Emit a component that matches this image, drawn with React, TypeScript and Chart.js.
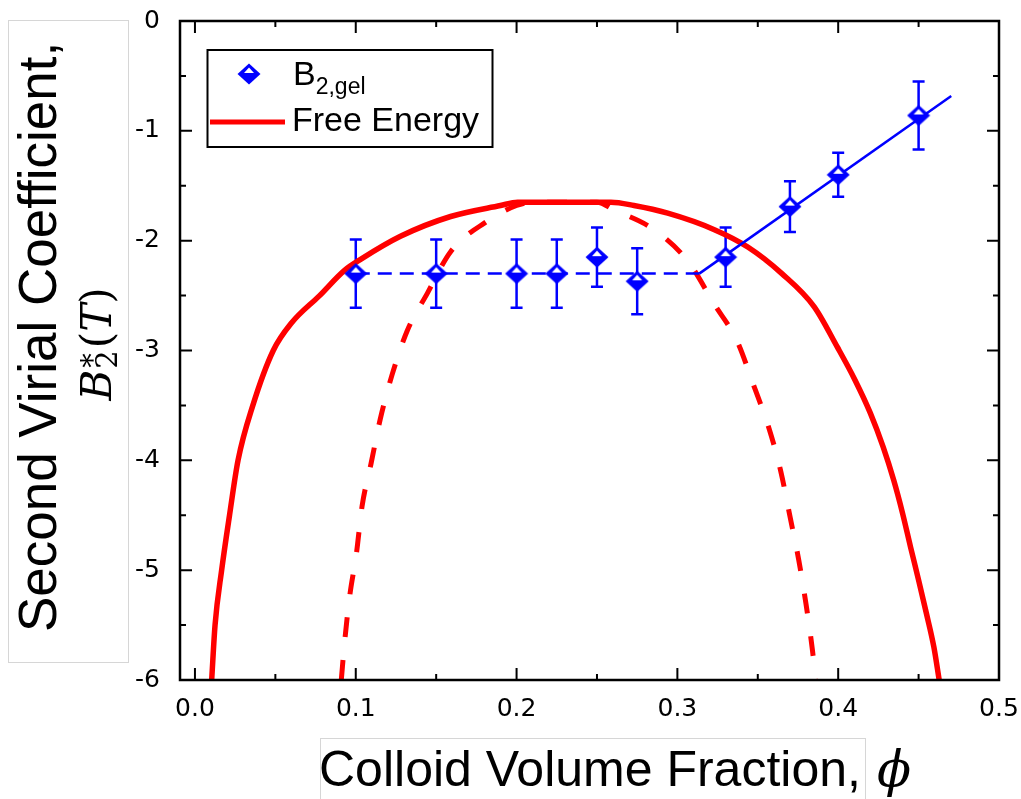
import React, { useEffect, useRef } from 'react';
import { Chart, registerables } from 'chart.js';

Chart.register(...registerables);

// ---- data ----
const phi = [0.10, 0.15, 0.20, 0.225, 0.25, 0.275, 0.33, 0.37, 0.40, 0.45];
const b2gel = [-2.30, -2.30, -2.30, -2.30, -2.15, -2.37, -2.15, -1.69, -1.40, -0.86];
const b2gelErr = [0.31, 0.31, 0.31, 0.31, 0.27, 0.30, 0.27, 0.23, 0.20, 0.31];

const fitDashX = [0.10, 0.3136];
const fitDashY = [-2.30, -2.30];
const fitSolidX = [0.3136, 0.4703];
const fitSolidY = [-2.30, -0.683];

const binodalX = [0.0104, 0.0125, 0.0166, 0.0215, 0.0268, 0.0360, 0.0487, 0.060, 0.0775, 0.093, 0.103, 0.1278, 0.159, 0.190, 0.2006, 0.2587, 0.273, 0.294, 0.323, 0.344, 0.365, 0.385, 0.3995, 0.4105, 0.4200, 0.4280, 0.4345, 0.4400, 0.4450, 0.4500, 0.4548, 0.4595, 0.4628];
const binodalY = [-6.0, -5.5, -5.0, -4.5, -4.0, -3.5, -3.0, -2.75, -2.5, -2.27, -2.17, -1.96, -1.78, -1.68, -1.65, -1.65, -1.68, -1.75, -1.90, -2.06, -2.30, -2.60, -2.97, -3.27, -3.57, -3.88, -4.18, -4.48, -4.79, -5.09, -5.39, -5.70, -6.0];

const spinodalX = [0.091, 0.0931, 0.0962, 0.1004, 0.1039, 0.1095, 0.1153, 0.1226, 0.132, 0.1445, 0.159, 0.181, 0.200, 0.210, 0.250, 0.2606, 0.2855, 0.3067, 0.323, 0.337, 0.3475, 0.357, 0.3643, 0.370, 0.3755, 0.380, 0.384, 0.386];
const spinodalY = [-6.0, -5.65, -5.24, -4.85, -4.42, -4.03, -3.62, -3.22, -2.82, -2.48, -2.10, -1.83, -1.68, -1.65, -1.65, -1.72, -1.90, -2.19, -2.58, -2.91, -3.32, -3.71, -4.10, -4.51, -4.91, -5.31, -5.73, -6.0];

const xMajorTicks = [0, 0.1, 0.2, 0.3, 0.4, 0.5];
const xMinorTicks = [0.05, 0.15, 0.25, 0.35, 0.45];
const yMajorTicks = [-6, -5, -4, -3, -2, -1, 0];
const yMinorTicks = [-5.5, -4.5, -3.5, -2.5, -1.5, -0.5];

const X_MIN = -0.0093;
const X_MAX = 0.5;
const Y_MIN = -6;
const Y_MAX = 0;

const BLUE = '#0000ff';
const RED = '#ff0000';
const SANS = '"Liberation Sans", Arial, sans-serif';
const TICKFONT = '"DejaVu Sans", sans-serif';
const SERIF = '"DejaVu Serif", serif';

function makeDiamond(): HTMLCanvasElement {
  const c = document.createElement('canvas');
  c.width = 24;
  c.height = 24;
  const g = c.getContext('2d')!;
  const cx = 12, cy = 12, hw = 11.5, hh = 10.5;
  g.fillStyle = BLUE;
  g.beginPath();
  g.moveTo(cx, cy - hh);
  g.lineTo(cx + hw, cy);
  g.lineTo(cx, cy + hh);
  g.lineTo(cx - hw, cy);
  g.closePath();
  g.fill();
  g.fillStyle = '#ffffff';
  g.beginPath();
  g.moveTo(cx, cy - 6.5);
  g.lineTo(cx + 5, cy - 1);
  g.lineTo(cx - 5, cy - 1);
  g.closePath();
  g.fill();
  return c;
}

const pts = (xs: number[], ys: number[]) => xs.map((x, i) => ({ x, y: ys[i] }));

export default function App() {
  const ref = useRef<HTMLCanvasElement | null>(null);

  useEffect(() => {
    const canvas = ref.current;
    if (!canvas) return;
    const diamond = makeDiamond();

    const decor = {
      id: 'decor',
      beforeDatasetsDraw(chart: any) {
        const { ctx, scales } = chart;
        const xs = scales.x, ys = scales.y;
        ctx.save();
        ctx.strokeStyle = BLUE;
        ctx.lineWidth = 2.5;
        phi.forEach((p, i) => {
          const px = xs.getPixelForValue(p);
          const yTop = ys.getPixelForValue(b2gel[i] + b2gelErr[i]);
          const yBot = ys.getPixelForValue(b2gel[i] - b2gelErr[i]);
          ctx.beginPath();
          ctx.moveTo(px, yTop);
          ctx.lineTo(px, yBot);
          ctx.moveTo(px - 6, yTop);
          ctx.lineTo(px + 6, yTop);
          ctx.moveTo(px - 6, yBot);
          ctx.lineTo(px + 6, yBot);
          ctx.stroke();
        });
        ctx.restore();
      },
      afterDraw(chart: any) {
        const { ctx, chartArea, scales } = chart;
        const xs = scales.x, ys = scales.y;
        const { left, right, top, bottom } = chartArea;
        ctx.save();
        // frame
        ctx.strokeStyle = '#000';
        ctx.lineWidth = 2.5;
        ctx.strokeRect(left, top, right - left, bottom - top);
        // inward ticks on all sides
        ctx.lineWidth = 2;
        const drawX = (vals: number[], len: number) => {
          vals.forEach((v) => {
            const px = xs.getPixelForValue(v);
            ctx.beginPath();
            ctx.moveTo(px, bottom);
            ctx.lineTo(px, bottom - len);
            ctx.moveTo(px, top);
            ctx.lineTo(px, top + len);
            ctx.stroke();
          });
        };
        const drawY = (vals: number[], len: number) => {
          vals.forEach((v) => {
            const py = ys.getPixelForValue(v);
            ctx.beginPath();
            ctx.moveTo(left, py);
            ctx.lineTo(left + len, py);
            ctx.moveTo(right, py);
            ctx.lineTo(right - len, py);
            ctx.stroke();
          });
        };
        drawX(xMajorTicks, 12);
        drawX(xMinorTicks, 6);
        drawY(yMajorTicks, 12);
        drawY(yMinorTicks, 6);

        // y-axis title box
        ctx.strokeStyle = '#d6d6d6';
        ctx.lineWidth = 1;
        ctx.strokeRect(8.5, 20.5, 120, 642);
        // x-axis title box
        ctx.strokeRect(320.5, 738.5, 545, 80);

        ctx.fillStyle = '#000';
        ctx.textBaseline = 'alphabetic';
        // y-axis title line 1
        ctx.save();
        ctx.translate(56, 337);
        ctx.rotate(-Math.PI / 2);
        ctx.font = `53px ${SANS}`;
        ctx.textAlign = 'center';
        ctx.fillText('Second Virial Coefficient,', 0, 0);
        ctx.restore();

        // y-axis title line 2: B*_2(T)
        ctx.save();
        ctx.translate(111, 344);
        ctx.rotate(-Math.PI / 2);
        ctx.textAlign = 'left';
        const fBig = `italic 42px ${SERIF}`;
        const fUp = `42px ${SERIF}`;
        const fSm = `29px ${SERIF}`;
        ctx.font = fBig;
        const wB = ctx.measureText('B').width;
        const wT = ctx.measureText('T').width;
        ctx.font = fUp;
        const wL = ctx.measureText('(').width;
        const wR = ctx.measureText(')').width;
        ctx.font = fSm;
        const wS = Math.max(ctx.measureText('*').width, ctx.measureText('2').width);
        const total = wB + 1 + wS + 2 + wL + wT + wR;
        let x = -total / 2;
        ctx.font = fBig;
        ctx.fillText('B', x, 0);
        x += wB + 1;
        ctx.font = fSm;
        ctx.fillText('*', x + 1, -9);
        ctx.fillText('2', x, 6);
        x += wS + 2;
        ctx.font = fUp;
        ctx.fillText('(', x, 0);
        x += wL;
        ctx.font = fBig;
        ctx.fillText('T', x, 0);
        x += wT;
        ctx.font = fUp;
        ctx.fillText(')', x, 0);
        ctx.restore();

        // x-axis title
        ctx.textAlign = 'left';
        ctx.font = `50px ${SANS}`;
        ctx.fillText('Colloid Volume Fraction,', 319, 786);
        ctx.font = `italic 50px ${SERIF}`;
        ctx.fillText('\u03D5', 877, 786);

        // legend
        ctx.strokeStyle = '#000';
        ctx.lineWidth = 2;
        ctx.strokeRect(207.5, 50, 285, 97);
        ctx.drawImage(diamond, 249 - 12, 74 - 12);
        ctx.font = `34px ${SANS}`;
        ctx.fillText('B', 293, 85);
        const wLB = ctx.measureText('B').width;
        ctx.font = `23px ${SANS}`;
        ctx.fillText('2,gel', 293 + wLB, 94);
        ctx.strokeStyle = RED;
        ctx.lineWidth = 5;
        ctx.beginPath();
        ctx.moveTo(210, 122);
        ctx.lineTo(285, 122);
        ctx.stroke();
        ctx.font = `34px ${SANS}`;
        ctx.fillText('Free Energy', 292, 131);
        ctx.restore();
      },
    };

    const chart = new Chart(canvas, {
      type: 'scatter',
      data: {
        datasets: [
          {
            label: 'B2,gel',
            data: pts(phi, b2gel),
            showLine: false,
            pointStyle: diamond as any,
            pointRadius: 11,
            pointHoverRadius: 11,
            borderColor: BLUE,
            backgroundColor: BLUE,
          },
          {
            label: 'fit',
            data: pts(fitSolidX, fitSolidY),
            showLine: true,
            borderColor: BLUE,
            borderWidth: 2.5,
            pointRadius: 0,
          },
          {
            label: 'fit plateau',
            data: pts(fitDashX, fitDashY),
            showLine: true,
            borderColor: BLUE,
            borderWidth: 2.5,
            borderDash: [14, 8],
            pointRadius: 0,
          },
          {
            label: 'Free Energy',
            data: pts(binodalX, binodalY),
            showLine: true,
            borderColor: RED,
            borderWidth: 5.5,
            pointRadius: 0,
            cubicInterpolationMode: 'monotone',
          },
          {
            label: 'Spinodal',
            data: pts(spinodalX, spinodalY),
            showLine: true,
            borderColor: RED,
            borderWidth: 5,
            borderDash: [20, 23],
            borderCapStyle: 'butt',
            pointRadius: 0,
            cubicInterpolationMode: 'monotone',
          },
        ],
      },
      options: {
        responsive: false,
        animation: false,
        devicePixelRatio: 1,
        events: [],
        layout: { padding: { top: 21, right: 22, left: 0, bottom: 0 } },
        plugins: { legend: { display: false }, tooltip: { enabled: false } },
        scales: {
          x: {
            type: 'linear',
            min: X_MIN,
            max: X_MAX,
            grid: { display: false, drawTicks: false },
            border: { display: false },
            ticks: {
              stepSize: 0.1,
              includeBounds: false,
              autoSkip: false,
              maxRotation: 0,
              padding: 14,
              color: '#000',
              font: { family: TICKFONT, size: 25 },
              callback: (v: any) => Number(v).toFixed(1),
            },
            afterFit: (s: any) => {
              s.height = 119;
              s.paddingLeft = 0;
              s.paddingRight = 0;
            },
          },
          y: {
            type: 'linear',
            min: Y_MIN,
            max: Y_MAX,
            grid: { display: false, drawTicks: false },
            border: { display: false },
            ticks: {
              stepSize: 1,
              autoSkip: false,
              padding: 20,
              color: '#000',
              font: { family: TICKFONT, size: 25 },
              callback: (v: any) => String(Math.round(Number(v))),
            },
            afterFit: (s: any) => {
              s.width = 180;
              s.paddingTop = 0;
              s.paddingBottom = 0;
            },
          },
        },
      },
      plugins: [decor],
    } as any);

    return () => chart.destroy();
  }, []);

  return (
    <div style={{ position: 'fixed', left: 0, top: 0, width: 1021, height: 799, background: '#fff' }}>
      <canvas ref={ref} width={1021} height={799} style={{ display: 'block' }} />
    </div>
  );
}
